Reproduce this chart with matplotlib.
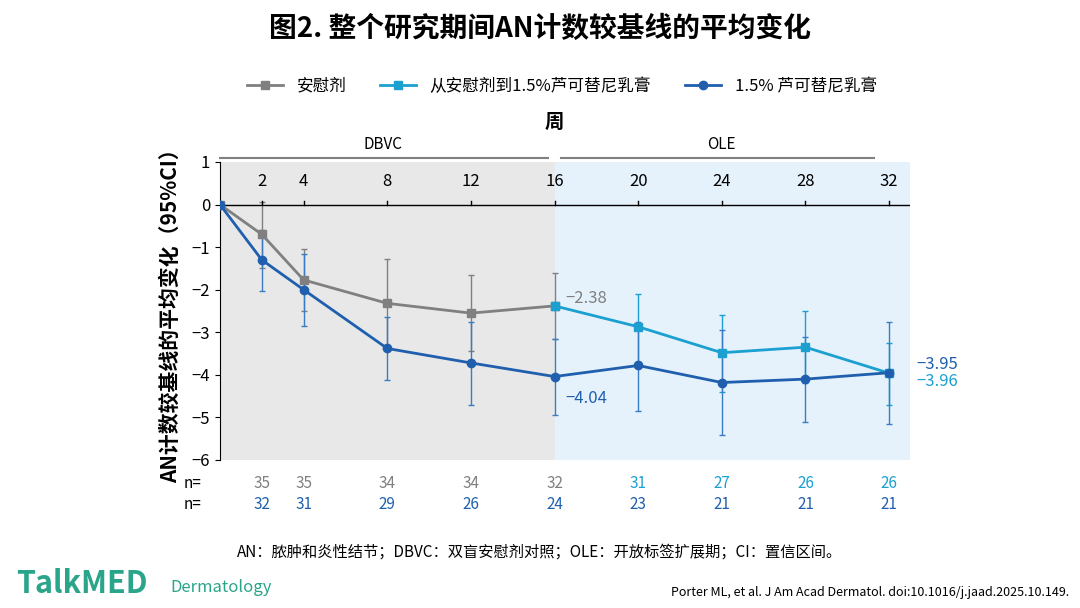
import matplotlib.pyplot as plt

plt.rcParams['font.family'] = ['Noto Sans CJK SC', 'DejaVu Sans']

weeks = [0, 2, 4, 8, 12, 16, 20, 24, 28, 32]

pbo_weeks = [0, 2, 4, 8, 12, 16]
pbo_mean = [0, -0.70, -1.77, -2.32, -2.55, -2.38]
pbo_hi = [0, 0.07, -1.05, -1.28, -1.65, -1.60]
pbo_lo = [0, -1.50, -2.50, -3.38, -3.45, -3.15]

sw_weeks = [16, 20, 24, 28, 32]
sw_mean = [-2.38, -2.87, -3.48, -3.35, -3.96]
sw_hi = [-2.38, -2.10, -2.60, -2.50, -3.25]
sw_lo = [-2.38, -3.70, -4.40, -4.20, -4.70]

rux_mean = [0, -1.30, -2.00, -3.38, -3.72, -4.04, -3.78, -4.18, -4.10, -3.95]
rux_hi = [0, -0.60, -1.15, -2.63, -2.75, -3.15, -2.75, -2.95, -3.10, -2.75]
rux_lo = [0, -2.02, -2.85, -4.13, -4.70, -4.95, -4.85, -5.42, -5.10, -5.15]

n_weeks = [2, 4, 8, 12, 16, 20, 24, 28, 32]
n_top = [35, 35, 34, 34, 32, 31, 27, 26, 26]
n_bot = [32, 31, 29, 26, 24, 23, 21, 21, 21]

GRAY = '#808080'
LIGHT = '#1ba0d0'
DARK = '#1f5fae'

fig = plt.figure(figsize=(10.8, 6.08), dpi=100)
ax = fig.add_axes([220 / 1080, 1 - 460 / 608, 690 / 1080, 298 / 608])
ax.set_xlim(0, 33)
ax.set_ylim(-6, 1)
ax.axvspan(0, 16, ymax=1, color='#e8e8e8', zorder=0)
ax.axvspan(16, 33, color='#e5f1fb', zorder=0)

def series(x, m, lo, hi, c, mk, ms, ecol):
    yerr = [[a - b for a, b in zip(m, lo)], [b - a for a, b in zip(m, hi)]]
    ax.errorbar(x, m, yerr=yerr, fmt='none', ecolor=ecol, elinewidth=1, capsize=2, zorder=2)
    ax.plot(x, m, color=c, marker=mk, ms=ms, lw=2, zorder=3)

series(pbo_weeks, pbo_mean, pbo_lo, pbo_hi, GRAY, 's', 6, GRAY)
series(sw_weeks, sw_mean, sw_lo, sw_hi, LIGHT, 's', 6, LIGHT)
series(weeks, rux_mean, rux_lo, rux_hi, DARK, 'o', 6, '#3a7cc4')

for s in ['top', 'right', 'bottom']:
    ax.spines[s].set_visible(False)
ax.axhline(0, color='black', lw=1, zorder=1)
ax.set_yticks(range(-6, 2))
ax.set_yticklabels([str(v).replace('-', '−') for v in range(-6, 2)], fontsize=12)
ax.set_xticks([])
for w in n_weeks:
    ax.plot([w, w], [0, 0.08], color='black', lw=1)
    ax.text(w, 0.35, str(w), ha='center', va='bottom', fontsize=12)

ax.text(16.5, -2.2, '−2.38', color=GRAY, fontsize=12, va='center')
ax.text(16.5, -4.55, '−4.04', color=DARK, fontsize=12, va='center')
ax.text(33.3, -3.75, '−3.95', color=DARK, fontsize=12, va='center', clip_on=False)
ax.text(33.3, -4.15, '−3.96', color=LIGHT, fontsize=12, va='center', clip_on=False)

# phase brackets
ax.plot([0, 15.7], [1.1, 1.1], color=GRAY, lw=1.5, clip_on=False)
ax.plot([16.3, 31.3], [1.1, 1.1], color=GRAY, lw=1.5, clip_on=False)
ax.text(7.8, 1.2, 'DBVC', ha='center', va='bottom', fontsize=11)
ax.text(24, 1.2, 'OLE', ha='center', va='bottom', fontsize=11)
ax.text(16, 1.7, '周', ha='center', va='bottom', fontsize=14, fontweight='bold')

ax.set_ylabel('AN计数较基线的平均变化（95%CI）', fontsize=15, fontweight='bold', labelpad=8)

ax.text(-0.9, -6.55, 'n=', ha='right', va='center', fontsize=11)
ax.text(-0.9, -7.05, 'n=', ha='right', va='center', fontsize=11)
for i, w in enumerate(n_weeks):
    ax.text(w, -6.55, str(n_top[i]), ha='center', va='center', fontsize=11,
            color=GRAY if w <= 16 else LIGHT, clip_on=False)
    ax.text(w, -7.05, str(n_bot[i]), ha='center', va='center', fontsize=11, color=DARK, clip_on=False)

fig.text(0.5, 0.94, '图2. 整个研究期间AN计数较基线的平均变化', ha='center', fontsize=20, fontweight='bold')

h1, = fig.gca().plot([], [], color=GRAY, marker='s', lw=2)
h2, = fig.gca().plot([], [], color=LIGHT, marker='s', lw=2)
h3, = fig.gca().plot([], [], color=DARK, marker='o', lw=2)
fig.legend([h1, h2, h3], ['安慰剂', '从安慰剂到1.5%芦可替尼乳膏', '1.5% 芦可替尼乳膏'],
           loc='center', bbox_to_anchor=(0.52, 0.858), ncol=3, frameon=False, fontsize=12,
           columnspacing=2, handlelength=2.2)

fig.text(0.5, 0.085, 'AN：脓肿和炎性结节；DBVC：双盲安慰剂对照；OLE：开放标签扩展期；CI：置信区间。',
         ha='center', fontsize=11)
fig.text(0.015, 0.025, 'TalkMED', color='#2aa58a', fontsize=22, fontweight='bold')
fig.text(0.158, 0.027, 'Dermatology', color='#2aa58a', fontsize=12, style='italic')
fig.text(0.99, 0.02, 'Porter ML, et al. J Am Acad Dermatol. doi:10.1016/j.jaad.2025.10.149.',
         ha='right', fontsize=9)

fig.savefig('out.png', dpi=100)
